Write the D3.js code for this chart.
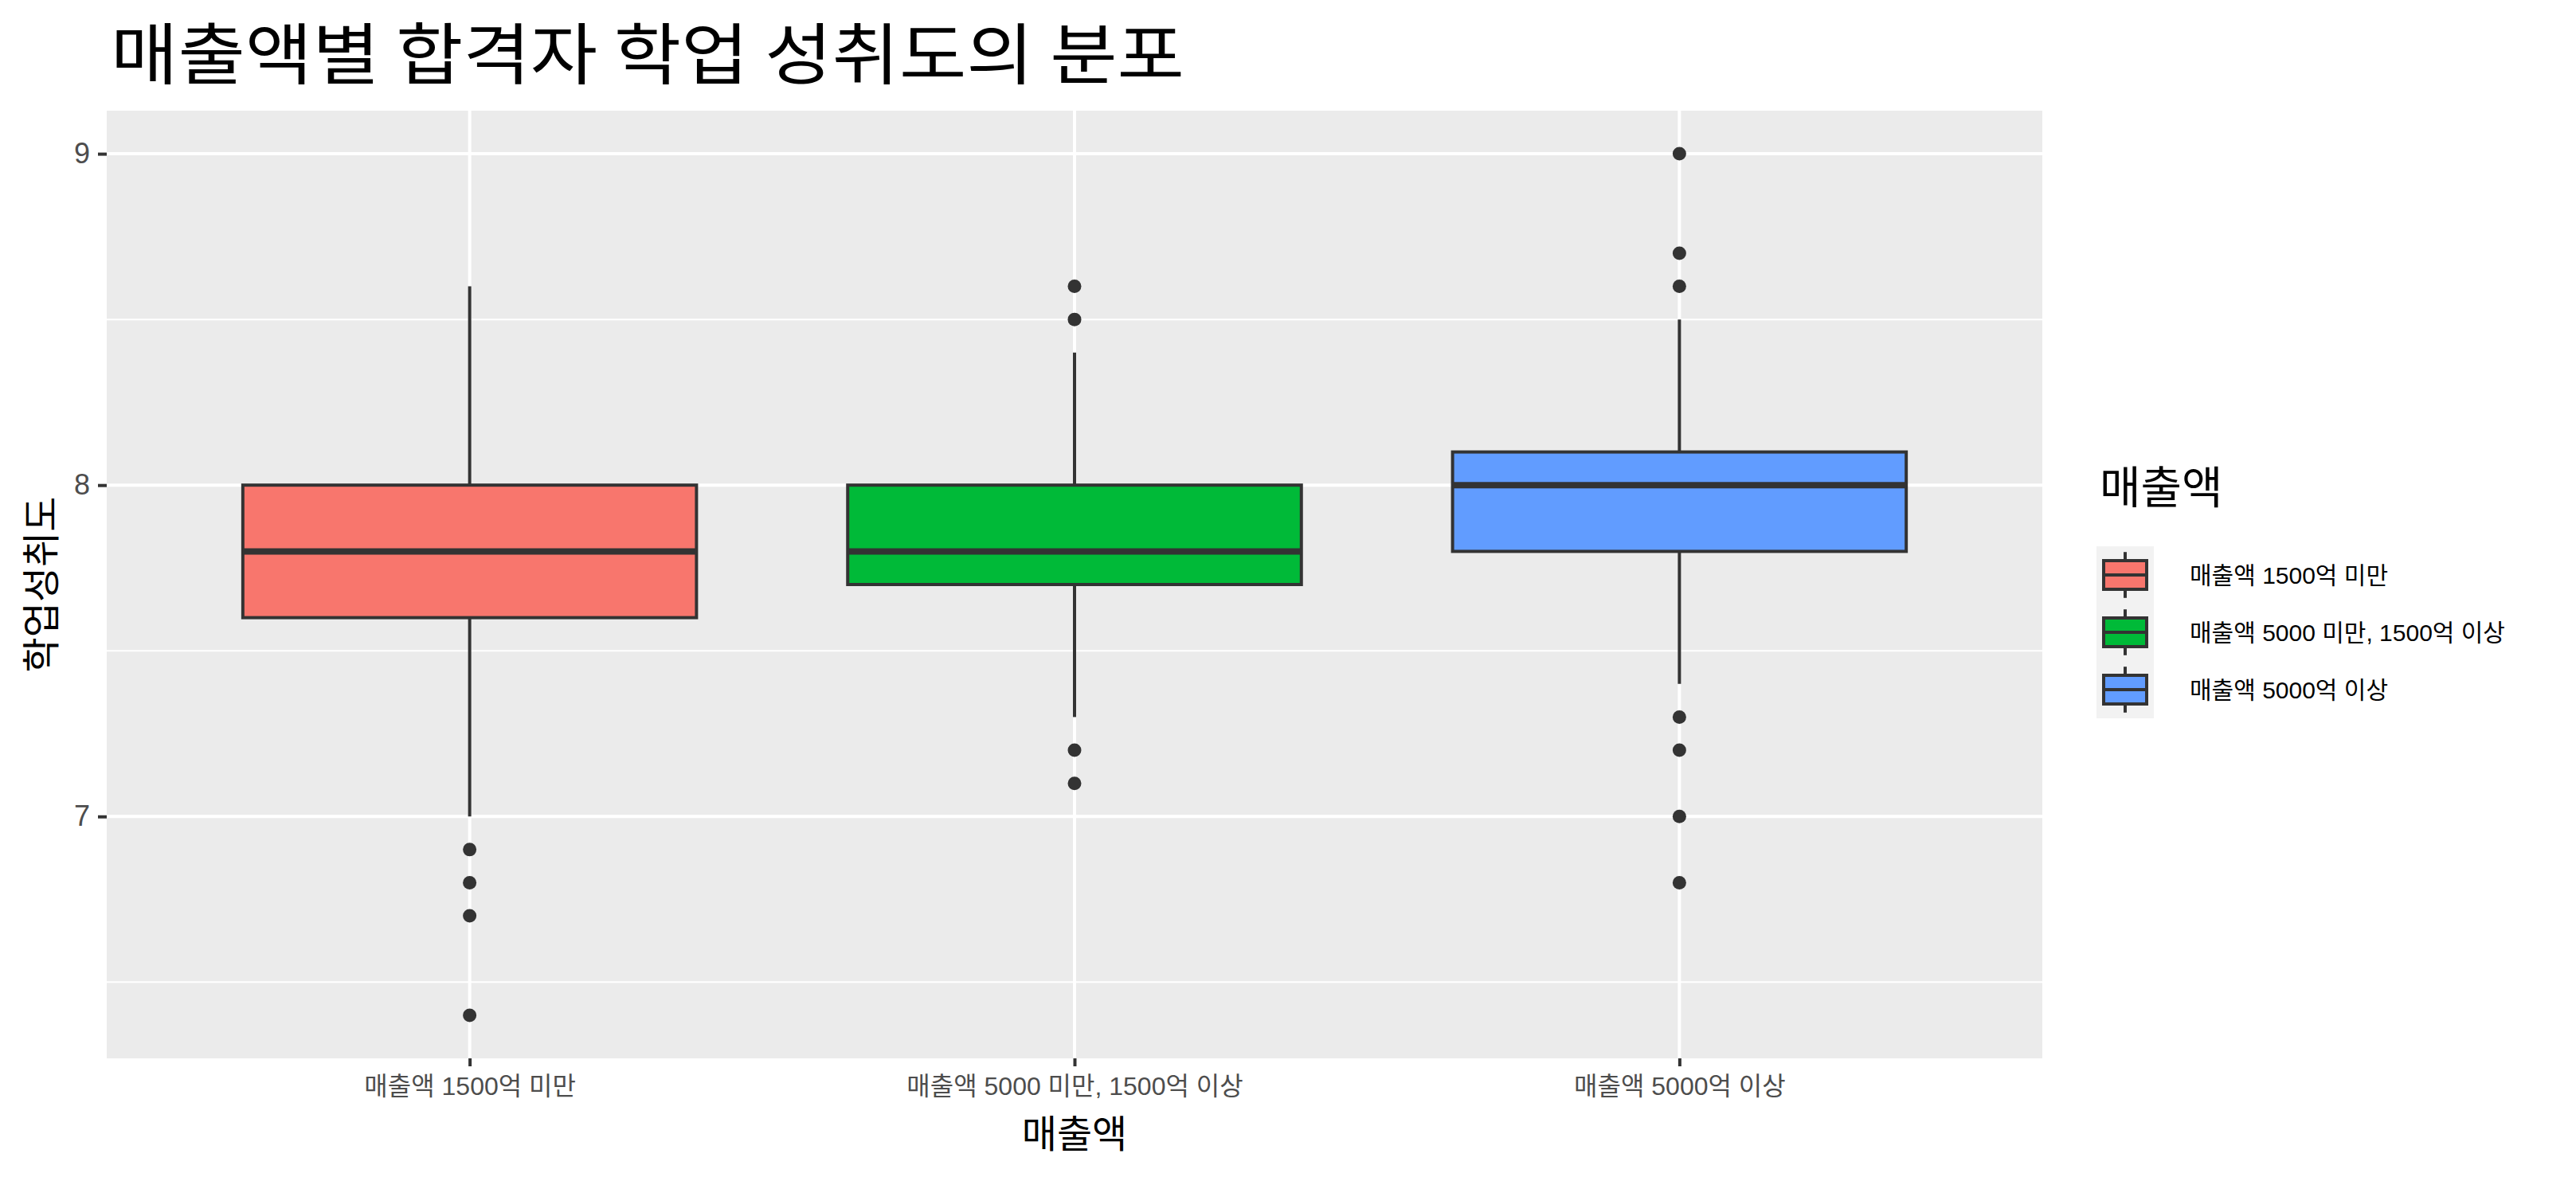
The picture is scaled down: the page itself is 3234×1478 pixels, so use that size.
<!DOCTYPE html>
<html>
<head>
<meta charset="utf-8">
<script src="https://cdn.jsdelivr.net/npm/d3@7"></script>
<style>
  html, body { margin: 0; padding: 0; background: #ffffff; }
  svg { display: block; }
</style>
</head>
<body>
<svg id="chart" width="3234" height="1478"></svg>
<script>
// ---- data ----
const categories = ["매출액 1500억 미만", "매출액 5000 미만, 1500억 이상", "매출액 5000억 이상"];
const colors = ["#F8766D", "#00BA38", "#619CFF"];
const whiskerLow  = [7.0, 7.3, 7.4];
const q1          = [7.6, 7.7, 7.8];
const median      = [7.8, 7.8, 8.0];
const q3          = [8.0, 8.0, 8.1];
const whiskerHigh = [8.6, 8.4, 8.5];
const outliers1 = [6.9, 6.8, 6.7, 6.4];
const outliers2 = [8.6, 8.5, 7.2, 7.1];
const outliers3 = [9.0, 8.7, 8.6, 7.3, 7.2, 7.0, 6.8];
const outliers = [outliers1, outliers2, outliers3];
const yMajorTicks = [7, 8, 9];
const yMinorTicks = [6.5, 7.5, 8.5];
const titleText = "매출액별 합격자 학업 성취도의 분포";
const xTitle = "매출액";
const yTitle = "학업성취도";
const legendTitle = "매출액";

// ---- layout ----
const panel = { left: 134, right: 2564, top: 139, bottom: 1329 };
const svg = d3.select("#chart");
const korean = "'Noto Sans CJK KR', sans-serif";
const mixed = "'Liberation Sans', 'Noto Sans CJK KR', sans-serif";

// y domain: data range with 5% expansion
const allVals = [].concat(whiskerLow, whiskerHigh, ...outliers);
const yMin = d3.min(allVals), yMax = d3.max(allVals);
const pad = (yMax - yMin) * 0.05;
const y = d3.scaleLinear().domain([yMin - pad, yMax + pad]).range([panel.bottom, panel.top]);
const x = d3.scalePoint().domain(categories).range([panel.left, panel.right]).padding(0.6);
const boxW = x.step() * 0.75;

// panel background
svg.append("rect")
  .attr("x", panel.left).attr("y", panel.top)
  .attr("width", panel.right - panel.left).attr("height", panel.bottom - panel.top)
  .attr("fill", "#EBEBEB");

// grid lines
const grid = svg.append("g");
grid.selectAll(".minor").data(yMinorTicks).enter().append("line")
  .attr("x1", panel.left).attr("x2", panel.right)
  .attr("y1", d => y(d)).attr("y2", d => y(d))
  .attr("stroke", "#ffffff").attr("stroke-width", 2);
grid.selectAll(".majory").data(yMajorTicks).enter().append("line")
  .attr("x1", panel.left).attr("x2", panel.right)
  .attr("y1", d => y(d)).attr("y2", d => y(d))
  .attr("stroke", "#ffffff").attr("stroke-width", 4);
grid.selectAll(".majorx").data(categories).enter().append("line")
  .attr("x1", d => x(d)).attr("x2", d => x(d))
  .attr("y1", panel.top).attr("y2", panel.bottom)
  .attr("stroke", "#ffffff").attr("stroke-width", 4);

// boxplots
const boxes = categories.map((c, i) => ({
  cat: c, color: colors[i], lo: whiskerLow[i], q1: q1[i], med: median[i], q3: q3[i], hi: whiskerHigh[i], out: outliers[i]
}));
const bg = svg.append("g");
boxes.forEach(b => {
  const cx = x(b.cat);
  const g = bg.append("g");
  g.append("line").attr("x1", cx).attr("x2", cx).attr("y1", y(b.q3)).attr("y2", y(b.hi))
    .attr("stroke", "#333333").attr("stroke-width", 4);
  g.append("line").attr("x1", cx).attr("x2", cx).attr("y1", y(b.q1)).attr("y2", y(b.lo))
    .attr("stroke", "#333333").attr("stroke-width", 4);
  g.append("rect").attr("x", cx - boxW / 2).attr("width", boxW)
    .attr("y", y(b.q3)).attr("height", y(b.q1) - y(b.q3))
    .attr("fill", b.color).attr("stroke", "#333333").attr("stroke-width", 4);
  g.append("line").attr("x1", cx - boxW / 2).attr("x2", cx + boxW / 2)
    .attr("y1", y(b.med)).attr("y2", y(b.med))
    .attr("stroke", "#333333").attr("stroke-width", 8);
  g.selectAll("circle").data(b.out).enter().append("circle")
    .attr("cx", cx).attr("cy", d => y(d)).attr("r", 8.5).attr("fill", "#333333");
});

// y axis
const yAxis = svg.append("g").attr("transform", `translate(${panel.left},0)`)
  .call(d3.axisLeft(y).tickValues(yMajorTicks).tickFormat(d3.format("d")).tickSize(11).tickPadding(10));
yAxis.select(".domain").remove();
yAxis.selectAll(".tick line").attr("stroke", "#333333").attr("stroke-width", 4);
yAxis.selectAll(".tick text").attr("fill", "#4D4D4D").style("font-family", mixed).style("font-size", "36px");

// x axis
const xAxis = svg.append("g").attr("transform", `translate(0,${panel.bottom})`)
  .call(d3.axisBottom(x).tickSize(10).tickPadding(10));
xAxis.select(".domain").remove();
xAxis.selectAll(".tick line").attr("stroke", "#333333").attr("stroke-width", 4);
xAxis.selectAll(".tick text").attr("fill", "#4D4D4D").style("font-family", mixed).style("font-size", "32px")
  .attr("y", 35).attr("dy", "0.35em");

// title
svg.append("text").attr("x", 139).attr("y", 99)
  .attr("textLength", 1348).attr("lengthAdjust", "spacingAndGlyphs")
  .style("font-family", korean).style("font-size", "84px").attr("fill", "#000")
  .text(titleText);

// axis titles
svg.append("text").attr("x", (panel.left + panel.right) / 2).attr("y", 1424)
  .attr("text-anchor", "middle").attr("dy", "0.35em")
  .style("font-family", korean).style("font-size", "48px").attr("fill", "#000")
  .text(xTitle);
svg.append("text")
  .attr("transform", `translate(52,${(panel.top + panel.bottom) / 2}) rotate(-90)`)
  .attr("text-anchor", "middle").attr("dy", "0.35em")
  .style("font-family", korean).style("font-size", "48px").attr("fill", "#000")
  .text(yTitle);

// legend
const lg = svg.append("g");
lg.append("text").attr("x", 2636).attr("y", 612).attr("dy", "0.35em")
  .style("font-family", korean).style("font-size", "56px").attr("fill", "#000")
  .text(legendTitle);
const keySize = 72, keyX = 2632, keyY0 = 686;
boxes.forEach((b, i) => {
  const ky = keyY0 + i * keySize;
  const g = lg.append("g").attr("transform", `translate(${keyX},${ky})`);
  g.append("rect").attr("width", keySize).attr("height", keySize).attr("fill", "#F2F2F2");
  g.append("line").attr("x1", keySize / 2).attr("x2", keySize / 2).attr("y1", keySize * 0.1).attr("y2", keySize * 0.9)
    .attr("stroke", "#333333").attr("stroke-width", 4);
  g.append("rect").attr("x", keySize * 0.125).attr("width", keySize * 0.75)
    .attr("y", keySize * 0.25).attr("height", keySize * 0.5)
    .attr("fill", b.color).attr("stroke", "#333333").attr("stroke-width", 4);
  g.append("line").attr("x1", keySize * 0.125).attr("x2", keySize * 0.875)
    .attr("y1", keySize / 2).attr("y2", keySize / 2)
    .attr("stroke", "#333333").attr("stroke-width", 4);
  lg.append("text").attr("x", 2749).attr("y", ky + keySize / 2).attr("dy", "0.35em")
    .style("font-family", mixed).style("font-size", "30px").attr("fill", "#000")
    .text(b.cat);
});
</script>
</body>
</html>
